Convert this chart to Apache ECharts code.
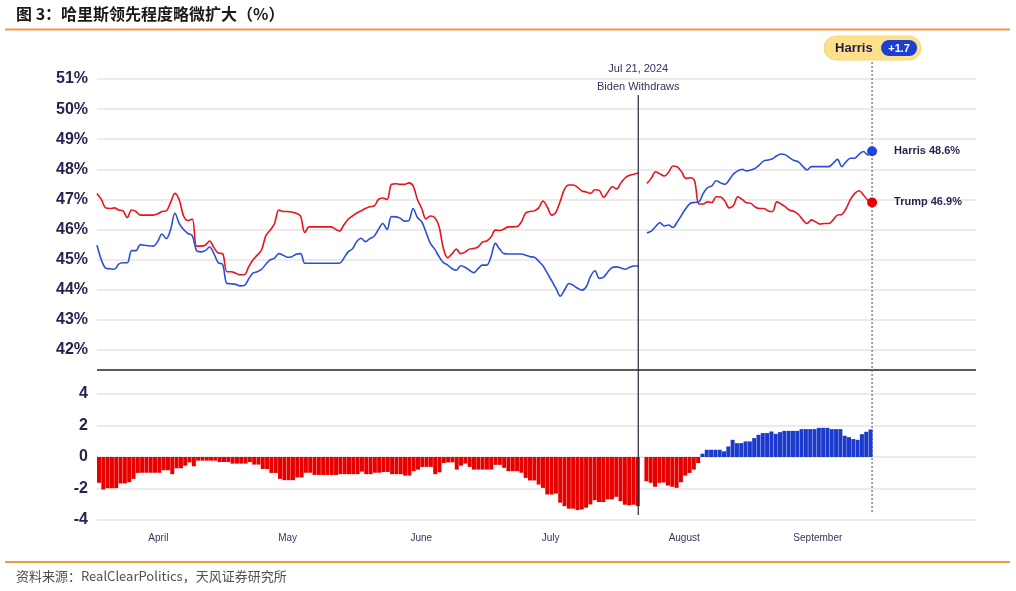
<!DOCTYPE html>
<html>
<head>
<meta charset="utf-8">
<script src="https://cdn.jsdelivr.net/npm/echarts@6/dist/echarts.min.js"></script>
<style>
html,body{margin:0;padding:0;background:#fff;}
#c{width:1016px;height:591px;}
</style>
</head>
<body>
<div id="c"></div>
<script>
// ---------- DATA ----------
const titleText = '图 3：哈里斯领先程度略微扩大（%）';
const sourceText = '资料来源：RealClearPolitics，天风证券研究所';
const startDate = '2024-03-18';       // first daily observation
const axisStart = '2024-03-18';
const axisEnd = '2024-10-07';
const eventDate = '2024-07-21';
const eventTitle = 'Jul 21, 2024';
const eventLabel = 'Biden Withdraws';
const monthTicks = ['2024-04-01','2024-05-01','2024-06-01','2024-07-01','2024-08-01','2024-09-01'];
const monthLabels = ['April','May','June','July','August','September'];
const leaderName = 'Harris';

const trump = [47.2,47.0,46.72,46.7,46.72,46.65,46.62,46.4,46.65,46.6,
46.48,46.48,46.48,46.48,46.52,46.6,46.62,46.9,47.2,46.98,
46.45,46.3,46.35,45.45,45.45,45.48,45.62,45.4,45.22,45.2,
44.6,44.6,44.55,44.5,44.5,44.75,44.99,45.15,45.32,45.8,
45.98,46.2,46.65,46.6,46.6,46.58,46.54,46.45,45.9,46.09,
46.09,46.09,46.09,46.09,46.09,46.02,45.95,46.15,46.34,46.45,
46.55,46.62,46.7,46.76,46.78,47.0,47.05,47.0,47.5,47.52,
47.5,47.5,47.55,47.45,47.0,46.7,46.35,46.45,46.4,46.1,
45.37,45.06,45.2,45.35,45.2,45.25,45.35,45.37,45.42,45.58,
45.62,45.75,45.98,45.97,46.02,46.09,46.09,46.1,46.25,46.55,
46.6,46.62,46.72,46.95,46.75,46.48,46.58,46.95,47.35,47.48,
47.48,47.4,47.28,47.25,47.2,47.32,47.3,47.07,47.25,47.42,
47.35,47.55,47.72,47.8,47.84,47.88,null,47.53,47.7,47.92,
47.85,47.78,47.9,48.11,48.08,47.92,47.7,47.72,47.62,46.85,
46.85,46.92,46.9,47.09,47.08,46.95,46.72,46.8,47.09,47.0,
46.89,46.87,46.75,46.7,46.7,46.62,46.6,46.92,46.85,46.75,
46.64,46.6,46.5,46.32,46.2,46.32,46.25,46.18,46.2,46.2,
46.32,46.48,46.5,46.7,47.0,47.2,47.29,47.15,46.98,46.9];

const harris = [45.48,45.0,44.72,44.7,44.68,44.85,44.9,44.9,45.3,45.3,
45.5,45.48,45.46,45.45,45.6,45.85,45.7,46.0,46.54,46.2,
46.0,45.87,45.8,45.3,45.26,45.3,45.42,45.2,44.9,44.85,
44.21,44.2,44.18,44.13,44.14,44.35,44.55,44.6,44.68,44.85,
44.99,45.05,45.2,45.15,45.08,45.1,45.18,45.2,44.88,44.88,
44.88,44.88,44.88,44.88,44.88,44.88,44.88,45.05,45.26,45.36,
45.6,45.71,45.6,45.7,45.78,46.0,46.2,46.0,46.43,46.42,
46.38,46.28,46.3,46.7,46.4,46.26,45.9,45.54,45.35,45.1,
44.9,44.82,44.7,44.65,44.8,44.75,44.65,44.57,44.7,44.82,
44.82,45.1,45.54,45.35,45.2,45.19,45.19,45.19,45.19,45.15,
45.1,45.08,44.95,44.8,44.55,44.3,44.05,43.79,44.0,44.21,
44.15,44.05,43.99,44.1,44.45,44.63,44.38,44.42,44.6,44.74,
44.76,44.72,44.68,44.75,44.79,44.79,null,45.89,45.95,46.1,
46.23,46.12,46.15,46.07,46.25,46.48,46.7,46.87,46.9,46.92,
47.2,47.39,47.45,47.62,47.55,47.5,47.65,47.85,47.95,48.0,
47.95,47.98,48.03,48.15,48.28,48.31,48.35,48.45,48.51,48.48,
48.38,48.29,48.25,48.1,47.98,48.09,48.09,48.09,48.09,48.09,
48.2,48.33,48.09,48.25,48.37,48.37,48.5,48.59,48.48,48.6];

const spread = [-1.64,-2.06,-1.98,-1.98,-1.98,-1.68,-1.68,-1.6,-1.39,-1.01,
-1.0,-1.0,-1.0,-1.0,-1.0,-0.84,-0.84,-1.09,-0.72,-0.72,
-0.55,-0.34,-0.59,-0.23,-0.23,-0.23,-0.23,-0.23,-0.32,-0.32,
-0.32,-0.42,-0.42,-0.42,-0.42,-0.32,-0.48,-0.48,-0.76,-0.76,
-1.01,-1.01,-1.39,-1.47,-1.47,-1.47,-1.3,-1.3,-1.0,-1.0,
-1.14,-1.14,-1.14,-1.14,-1.14,-1.14,-1.09,-1.09,-1.09,-1.09,
-1.09,-0.93,-1.09,-1.09,-1.0,-1.0,-0.95,-0.95,-1.09,-1.09,
-1.09,-1.18,-1.18,-0.9,-0.8,-0.63,-0.63,-0.63,-1.09,-0.97,
-0.38,-0.34,-0.34,-0.8,-0.55,-0.42,-0.63,-0.8,-0.8,-0.8,
-0.8,-0.8,-0.5,-0.5,-0.69,-0.9,-0.9,-0.9,-1.0,-1.33,
-1.49,-1.49,-1.75,-1.96,-2.38,-2.38,-2.32,-2.9,-3.12,-3.28,
-3.28,-3.37,-3.33,-3.22,-3.01,-2.74,-2.86,-2.86,-2.69,-2.69,
-2.53,-2.8,-3.03,-3.07,-3.03,-3.12,null,-1.54,-1.64,-1.89,
-1.64,-1.62,-1.81,-1.89,-1.96,-1.6,-1.18,-1.01,-0.8,-0.38,
0.21,0.46,0.46,0.46,0.46,0.36,0.67,1.09,0.88,0.88,
0.99,0.99,1.2,1.41,1.52,1.52,1.62,1.47,1.58,1.66,
1.66,1.66,1.66,1.77,1.77,1.77,1.77,1.85,1.85,1.85,
1.77,1.77,1.77,1.35,1.26,1.14,1.09,1.45,1.6,1.75];

// ---------- BUILD ----------
const dayMs = 86400000;
const ts = s => new Date(s + 'T00:00:00').getTime();
const t0 = ts(startDate);
const dates = harris.map((_, i) => t0 + i * dayMs);

const RED = '#e8141c', BLUE = '#2d4fd8';
const BAR_RED = '#e60000', BAR_BLUE = '#1c3bcc';
const INK = '#2a1f4d';
const FONT = '"Liberation Sans", Arial, sans-serif';
const lastI = harris.length - 1;

const chart = echarts.init(document.getElementById('c'), null, {renderer: 'canvas'});

function xAxisDef(gi) {
  return {
    gridIndex: gi, type: 'time', min: ts(axisStart), max: ts(axisEnd),
    axisLine: {show: false}, axisTick: {show: false}, splitLine: {show: false},
    axisLabel: {show: false}
  };
}

chart.setOption({
  animation: false,
  backgroundColor: '#fff',
  grid: [
    {left: 97, right: 40, top: 79, height: 271},
    {left: 97, right: 40, top: 394, height: 126}
  ],
  xAxis: [xAxisDef(0), xAxisDef(1)],
  yAxis: [
    {gridIndex: 0, type: 'value', min: 42, max: 51, interval: 1,
     axisLine: {show: false}, axisTick: {show: false},
     splitLine: {lineStyle: {color: '#e4e4e4', width: 1.5}},
     axisLabel: {formatter: '{value}%', color: INK, fontWeight: 'bold', fontSize: 16, margin: 9, fontFamily: FONT}},
    {gridIndex: 1, type: 'value', min: -4, max: 4, interval: 2,
     axisLine: {show: false}, axisTick: {show: false},
     splitLine: {lineStyle: {color: '#e4e4e4', width: 1.5}},
     axisLabel: {color: INK, fontWeight: 'bold', fontSize: 16, margin: 9, fontFamily: FONT}}
  ],
  series: [
    {type: 'line', name: 'Trump', xAxisIndex: 0, yAxisIndex: 0, showSymbol: false, smooth: 0.35,
     connectNulls: false, lineStyle: {color: RED, width: 1.6}, itemStyle: {color: RED},
     data: dates.map((d, i) => [d, trump[i]]), z: 3},
    {type: 'line', name: 'Harris', xAxisIndex: 0, yAxisIndex: 0, showSymbol: false, smooth: 0.35,
     connectNulls: false, lineStyle: {color: BLUE, width: 1.6}, itemStyle: {color: BLUE},
     data: dates.map((d, i) => [d, harris[i]]), z: 3},
    {type: 'scatter', xAxisIndex: 0, yAxisIndex: 0, symbolSize: 10, z: 5,
     data: [
       {value: [dates[lastI], harris[lastI]], itemStyle: {color: '#1f46dc', opacity: 1},
        label: {formatter: 'Harris ' + harris[lastI].toFixed(1) + '%'}},
       {value: [dates[lastI], trump[lastI]], itemStyle: {color: '#e80000', opacity: 1},
        label: {formatter: 'Trump ' + trump[lastI].toFixed(1) + '%'}}
     ],
     itemStyle: {opacity: 1},
     label: {show: true, position: 'right', distance: 17, color: INK, fontWeight: 'bold', fontSize: 11, fontFamily: FONT}},
    {type: 'bar', xAxisIndex: 1, yAxisIndex: 1, barWidth: 4,
     data: dates.map((d, i) => [d, spread[i]]),
     itemStyle: {color: p => (p.value[1] >= 0 ? BAR_BLUE : BAR_RED)}}
  ]
});

// ---------- decorations positioned through the axes ----------
const ex = chart.convertToPixel({xAxisIndex: 0}, ts(eventDate));
const lx = chart.convertToPixel({xAxisIndex: 0}, dates[lastI]);
const lead = harris[lastI] - trump[lastI];
const leadText = (lead >= 0 ? '+' : '') + lead.toFixed(1);

const monthTexts = monthTicks.map((m, k) => ({
  type: 'text', x: chart.convertToPixel({xAxisIndex: 1}, ts(m)) - 1, y: 538,
  style: {text: monthLabels[k], fill: '#3d2f5e', font: '10px ' + FONT, textAlign: 'center', textVerticalAlign: 'middle'}
}));

chart.setOption({
  graphic: [
    {type: 'text', left: 16, top: 6, style: {text: titleText, fill: '#1a1a1a', font: 'bold 16px "Noto Sans CJK SC", sans-serif'}},
    {type: 'line', shape: {x1: 5, y1: 29.5, x2: 1010, y2: 29.5}, style: {stroke: '#f29a45', lineWidth: 2}},
    {type: 'line', shape: {x1: 5, y1: 562, x2: 1010, y2: 562}, style: {stroke: '#f29a45', lineWidth: 2}},
    {type: 'text', left: 16, top: 570, style: {text: sourceText, fill: '#505050', font: '13px "Noto Sans CJK SC", sans-serif'}},
    {type: 'line', shape: {x1: 97, y1: 370, x2: 976, y2: 370}, style: {stroke: '#5a5a5a', lineWidth: 2}},
    {type: 'line', z: 10, shape: {x1: ex, y1: 95, x2: ex, y2: 515}, style: {stroke: '#2a2340', lineWidth: 1.2}},
    {type: 'text', z: 10, x: ex, y: 69, style: {text: eventTitle, fill: '#3d2f5e', font: '11px ' + FONT, textAlign: 'center', textVerticalAlign: 'middle'}},
    {type: 'text', z: 10, x: ex, y: 87, style: {text: eventLabel, fill: '#3d2f5e', font: '11px ' + FONT, textAlign: 'center', textVerticalAlign: 'middle'}},
    {type: 'line', z: 1, shape: {x1: lx, y1: 62, x2: lx, y2: 514}, style: {stroke: '#7d6f9c', lineWidth: 1.3, lineDash: [2, 2]}},
    {type: 'rect', z: 20, shape: {x: lx - 48, y: 36, width: 97, height: 24, r: 12}, style: {fill: '#fde08c', stroke: '#f8d77a', lineWidth: 1}},
    {type: 'text', z: 21, x: lx - 37, y: 48.5, style: {text: leaderName, fill: '#231942', font: 'bold 13px ' + FONT, textVerticalAlign: 'middle'}},
    {type: 'rect', z: 21, shape: {x: lx + 9, y: 40, width: 36, height: 16, r: 8}, style: {fill: '#1d3fd2'}},
    {type: 'text', z: 22, x: lx + 27, y: 48.5, style: {text: leadText, fill: '#ffffff', font: 'bold 11px ' + FONT, textAlign: 'center', textVerticalAlign: 'middle'}}
  ].concat(monthTexts)
});
</script>
</body>
</html>
